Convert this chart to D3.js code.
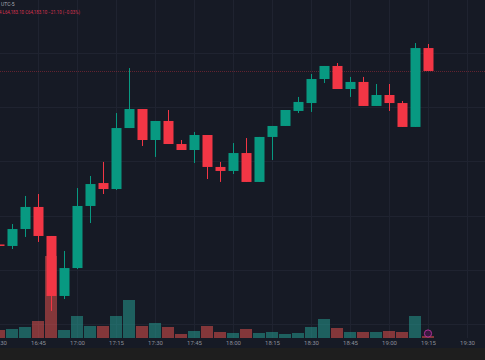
<!DOCTYPE html>
<html><head><meta charset="utf-8">
<script src="https://cdn.jsdelivr.net/npm/d3@7"></script>
<style>html,body{margin:0;padding:0;background:#1e1e1e;overflow:hidden}svg{display:block}</style>
</head><body>
<script>
// ---- data (5-minute candles, times from 16:30) ----
const times = ["16:30","16:35","16:40","16:45","16:50","16:55","17:00","17:05","17:10","17:15","17:20","17:25","17:30","17:35","17:40","17:45","17:50","17:55","18:00","18:05","18:10","18:15","18:20","18:25","18:30","18:35","18:40","18:45","18:50","18:55","19:00","19:05","19:10","19:15"];
const opens  = [64023.5,64022.1,64037.7,64058.0,64031.3,63976.1,64001.8,64058.9,64080.0,64074.5,64130.6,64148.1,64119.6,64137.1,64115.9,64110.4,64124.2,64094.8,64091.1,64107.6,64081.0,64122.4,64132.5,64146.3,64153.6,64175.7,64187.7,64166.5,64173.0,64150.9,64161.0,64153.6,64131.6,64204.2];
const highs  = [64024.8,64042.3,64068.1,64069.9,64031.3,64017.5,64075.4,64086.5,64099.4,64144.4,64185.8,64148.1,64137.1,64147.2,64119.6,64127.0,64124.2,64099.4,64116.8,64121.4,64122.4,64132.5,64147.2,64159.2,64180.3,64187.7,64190.4,64177.6,64177.6,64171.1,64171.1,64155.5,64208.8,64207.9];
const lows   = [64021.2,64019.3,64030.4,64025.8,63962.3,63973.3,64000.9,64043.2,64069.9,64073.6,64130.6,64114.1,64104.0,64115.9,64110.4,64098.4,64083.7,64081.0,64088.3,64081.0,64081.0,64101.2,64132.5,64144.4,64145.4,64172.0,64166.5,64159.2,64150.9,64150.9,64146.3,64131.6,64131.6,64183.1];
const closes = [64022.1,64037.7,64058.0,64031.3,63976.1,64001.8,64058.9,64079.1,64074.5,64130.6,64148.1,64119.6,64137.1,64115.9,64110.4,64124.2,64094.8,64091.1,64107.6,64081.0,64122.4,64132.5,64147.2,64154.6,64175.7,64187.7,64166.5,64173.0,64150.9,64161.0,64153.6,64131.6,64204.2,64183.1];
const volumes = [16,18,22,34,164,16,44,24,24,44,76,24,30,22,8,14,24,12,10,18,10,12,8,10,22,38,20,12,12,12,14,12,44,4];
const timeTicks = ["16:30","16:45","17:00","17:15","17:30","17:45","18:00","18:15","18:30","18:45","19:00","19:15","19:30"];
const priceGrid = [63950,64000,64050,64100,64150,64200,64250];
const headerLine1 = "UTC-5";
const headerLine2 = "4 L64,183.10 C64,183.10 \u221221.10 (\u22120.03%)";

// ---- setup ----
const W = 485, H = 360;
const up = "#089981", down = "#f23645";
const parseT = d3.timeParse("%H:%M");
const svg = d3.select("body").append("svg").attr("width", W).attr("height", H);

svg.append("rect").attr("width", W).attr("height", 348).attr("fill", "#161a25");
svg.append("rect").attr("y", 348).attr("width", W).attr("height", 12).attr("fill", "#1e1e1e");

const x = d3.scaleTime().domain([parseT("16:30"), parseT("19:30")]).range([-1, 467]);
const y = d3.scaleLinear().domain([64000, 64200]).range([270, 52.6]);
const v = d3.scaleLinear().domain([0, 164]).range([338, 256]);

const data = times.map((t, i) => ({t: parseT(t), o: opens[i], h: highs[i], l: lows[i], c: closes[i], vol: volumes[i]}));

// grid
const grid = svg.append("g");
grid.selectAll("line.v").data(timeTicks).join("line")
  .attr("x1", d => Math.round(x(parseT(d))) + 0.5).attr("x2", d => Math.round(x(parseT(d))) + 0.5)
  .attr("y1", 0).attr("y2", 338).attr("stroke", "#1f2330").attr("stroke-width", 1);
grid.selectAll("line.h").data(priceGrid).join("line")
  .attr("x1", 0).attr("x2", W)
  .attr("y1", d => Math.round(y(d)) + 0.5).attr("y2", d => Math.round(y(d)) + 0.5)
  .attr("stroke", "#1f2330").attr("stroke-width", 1);

// volume
svg.append("g").selectAll("rect").data(data).join("rect")
  .attr("x", d => x(d.t) - 6).attr("width", 12)
  .attr("y", d => v(d.vol)).attr("height", d => 338 - v(d.vol))
  .attr("fill", d => d.c >= d.o ? "#26a69a" : "#ef5350").attr("fill-opacity", 0.5);

// last price line
const last = data[data.length - 1];
svg.append("line").attr("x1", 0).attr("x2", W)
  .attr("y1", Math.round(y(last.c)) + 0.5).attr("y2", Math.round(y(last.c)) + 0.5)
  .attr("stroke", down).attr("stroke-opacity", 0.35).attr("stroke-dasharray", "1,1");

// candles
const cg = svg.append("g").selectAll("g").data(data).join("g");
cg.append("line")
  .attr("x1", d => Math.round(x(d.t)) + 0.5).attr("x2", d => Math.round(x(d.t)) + 0.5)
  .attr("y1", d => y(d.h)).attr("y2", d => y(d.l))
  .attr("stroke", d => d.c >= d.o ? up : down).attr("stroke-width", 1);
cg.append("rect")
  .attr("x", d => Math.round(x(d.t)) - 4.5).attr("width", 10)
  .attr("y", d => y(Math.max(d.o, d.c)))
  .attr("height", d => Math.max(1, Math.abs(y(d.o) - y(d.c))))
  .attr("fill", d => d.c >= d.o ? up : down);

// event icon
svg.append("circle").attr("cx", x(parseT("19:15"))).attr("cy", 333.5).attr("r", 3.6)
  .attr("fill", "#3a1840").attr("stroke", "#b0309a").attr("stroke-width", 1);

// time axis
const axis = svg.append("g").attr("transform", "translate(0,338)")
  .call(d3.axisBottom(x).tickValues(timeTicks.map(parseT)).tickFormat(d3.timeFormat("%H:%M")).tickSize(0).tickPadding(3));
axis.select(".domain").remove();
axis.selectAll("text").attr("fill", "#8a8e98").attr("font-size", "6px").attr("font-family", "Roboto, 'Noto Sans', sans-serif");

// header
svg.append("text").attr("x", 1).attr("y", 6).text(headerLine1)
  .attr("font-size", "5px").attr("fill", "#a8abb4").attr("font-family", "Roboto, sans-serif");
svg.append("text").attr("x", -1).attr("y", 14).text(headerLine2)
  .attr("font-size", "5px").attr("fill", "#d8334f").attr("textLength", 81).attr("lengthAdjust", "spacingAndGlyphs")
  .attr("font-family", "Roboto, sans-serif");
</script>
</body></html>
